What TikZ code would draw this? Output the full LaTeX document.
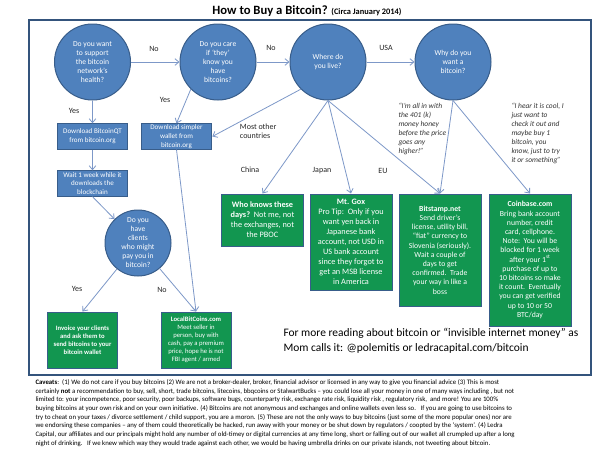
\documentclass[tikz,border=0pt]{standalone}
\usepackage{fontspec}
\setmainfont{Carlito}
\usetikzlibrary{arrows.meta}
\definecolor{qblue}{RGB}{79,129,189}
\definecolor{qedge}{RGB}{56,93,138}
\definecolor{qgreen}{RGB}{18,150,80}
\definecolor{qarrow}{RGB}{125,152,200}
\definecolor{qframe}{RGB}{52,84,124}
\tikzset{every picture/.style={line width=0.75pt}}
\tikzset{
	question/.style={circle, draw=qedge, fill=qblue, text=white, align=center, inner sep=0pt, minimum size=57pt, font=\fontsize{5.7}{6.75}\selectfont},
	stepbox/.style={rectangle, draw=qedge, fill=qblue, text=white, align=center, inner sep=0pt, minimum width=53pt, minimum height=19pt, font=\fontsize{5.3}{6.6}\selectfont},
	answer/.style={rectangle, draw=qedge, fill=qgreen, text=white, align=center, inner sep=0pt, minimum width=61.5pt, font=\fontsize{5.8}{6.9}\selectfont},
	flow/.style={draw=qarrow, line width=0.6pt, -{Straight Barb[length=3pt,width=5pt]}},
	lbl/.style={font=\fontsize{6}{7}\selectfont, text=black!85},
	quote/.style={anchor=north west, inner sep=0pt, font=\fontsize{5.6}{6.75}\selectfont\itshape, align=left, text=black!80}}

\begin{document}
\begin{tikzpicture}[x=0.75pt,y=0.75pt,yscale=-1,xscale=1]
	\path[fill=white] (0,0) rectangle (600,450);
	\useasboundingbox (0,0) rectangle (600,450);

	% Title
	\node (title) at (307,11) {\fontsize{9.5}{11}\selectfont\bfseries How to Buy a Bitcoin? {\fontsize{6.3}{7}\selectfont (Circa January 2014)}};
	% Frame
	\draw[qframe, line width=1.2pt] (29,20) rectangle (591,375);

	% Questions
	\node[question] (support) at (92.5,62) {Do you want\\to support\\the bitcoin\\network's\\health?};
	\node[question] (care) at (218,62) {Do you care\\if ‘they’\\know you\\have\\bitcoins?};
	\node[question] (live) at (328,62) {Where do\\you live?};
	\node[question] (why) at (453,62) {Why do you\\want a\\bitcoin?};
	\node[question, minimum size=49.5pt] (clients) at (138,243) {Do you\\have\\clients\\who might\\pay you in\\bitcoin?};

	% Steps
	\node[stepbox] (qt) at (92.5,136.5) {Download BitcoinQT\\from bitcoin.org};
	\node[stepbox] (simple) at (176.5,136.5) {Download simpler\\wallet from\\bitcoin.org};
	\node[stepbox] (wait) at (92.5,183.5) {Wait 1 week while it\\downloads the\\blockchain};

	% Answers
	\node[answer, minimum width=53pt, minimum height=42pt, font=\fontsize{5}{6}\selectfont\bfseries] (invoice) at (82.5,340) {Invoice your clients\\and ask them to\\send bitcoins to your\\bitcoin wallet};
	\node[answer, minimum width=52.5pt, minimum height=42pt, font=\fontsize{5}{6}\selectfont] (local) at (196,340) {\textbf{LocalBitCoins.com}\\Meet seller in\\person, buy with\\cash, pay a premium\\price, hope he is not\\FBI agent / armed};
	\node[answer, minimum width=61pt, minimum height=39pt, font=\fontsize{6.2}{7.5}\selectfont] (china) at (262.5,220) {\textbf{Who knows these}\\\textbf{days?}\ \ Not me, not\\the exchanges, not\\the PBOC};
	\node[answer, minimum height=72pt, font=\fontsize{6.2}{7.5}\selectfont] (gox) at (351,242) {\textbf{Mt. Gox}\\Pro Tip:\ \ Only if you\\want yen back in\\Japanese bank\\account, not USD in\\US bank account\\since they forgot to\\get an MSB license\\in America};
	\node[answer, minimum height=84pt] (stamp) at (440,250) {\textbf{Bitstamp.net}\\Send driver’s\\license, utility bill,\\“fiat” currency to\\Slovenia (seriously).\\Wait a couple of\\days to get\\confirmed.\ \ Trade\\your way in like a\\boss};
	\node[answer, minimum height=99pt] (coinbase) at (530,260) {\textbf{Coinbase.com}\\Bring bank account\\number, credit\\card, cellphone.\\Note:\ \ You will be\\blocked for 1 week\\after your 1\textsuperscript{st}\\purchase of up to\\10 bitcoins so make\\it count.\ \ Eventually\\you can get verified\\up to 10 or 50\\BTC/day};

	% Connectors
	\draw[flow] (support) -- (care);
	\draw[flow] (care) -- (live);
	\draw[flow] (live) -- (why);
	\draw[flow] (support) -- (qt);
	\draw[flow] (care.225) -- (simple.north);
	\draw[flow] (live.225) -- (simple.east);
	\draw[flow] (live.south) -- (china.north);
	\draw[flow] (live.south) -- (gox.north);
	\draw[flow] (live.south) -- (stamp.north);
	\draw[flow] (why.south) -- (stamp.north);
	\draw[flow] (why.south) -- (coinbase.north);
	\draw[flow] (qt) -- (wait);
	\draw[flow] (wait.south) -- (clients);
	\draw[flow] (simple.south) -- (local.north);
	\draw[flow] (clients) -- (invoice.north);
	\draw[flow] (clients) -- (local.north);

	% Labels
	\node[lbl] (no1) at (154,49) {No};
	\node[lbl] (no2) at (271,48) {No};
	\node[lbl] (usa) at (386,48) {USA};
	\node[lbl] (yes1) at (74,111) {Yes};
	\node[lbl] (yes2) at (165,100) {Yes};
	\node[lbl, anchor=west, align=left] (other) at (235,131) {Most other\\countries};
	\node[lbl] (lchina) at (250,170) {China};
	\node[lbl] (ljapan) at (322,171) {Japan};
	\node[lbl] (leu) at (383,171) {EU};
	\node[lbl] (yes3) at (77,289) {Yes};
	\node[lbl] (no3) at (162,290) {No};

	% Quotes
	\node[quote] (allin) at (398,103) {“I’m all in with\\the 401 (k)\\money honey\\before the price\\goes any\\higher!”};
	\node[quote] (cool) at (511,103) {“I hear it is cool, I\\just want to\\check it out and\\maybe buy 1\\bitcoin, you\\know, just to try\\it or something”};

	% Footer
	\node[anchor=west, align=left, inner sep=0pt, font=\fontsize{8.6}{11.25}\selectfont] (more) at (283,341) {For more reading about bitcoin or “invisible internet money” as\\Mom calls it: @polemitis or ledracapital.com/bitcoin};
	\node[anchor=north west, align=left, inner sep=0pt, font=\fontsize{5.1}{6.5}\selectfont] (caveats) at (35,379) {\textbf{Caveats}:\ \ (1) We do not care if you buy bitcoins (2) We are not a broker-dealer, broker, financial advisor or licensed in any way to give you financial advice (3) This is most\\
certainly \textbf{not} a recommendation to buy, sell, short, trade bitcoins, litecoins, bbqcoins or StalwartBucks – you could lose all your money in one of many ways including , but not\\
limited to: your incompetence, poor security, poor backups, software bugs, counterparty risk, exchange rate risk, liquidity risk , regulatory risk,\ \ and more! You are 100\%\\
buying bitcoins at your own risk and on your own initiative. (4) Bitcoins are not anonymous and exchanges and online wallets even less so.\ \ \ If you are going to use bitcoins to\\
try to cheat on your taxes / divorce settlement / child support, you are a moron. (5) These are not the only ways to buy bitcoins (just some of the more popular ones) nor are\\
we endorsing these companies – any of them could theoretically be hacked, run away with your money or be shut down by regulators / coopted by the ‘system’. (4) Ledra\\
Capital, our affiliates and our principals might hold any number of old-timey or digital currencies at any time long, short or falling out of our wallet all crumpled up after a long\\
night of drinking.\ \ \ If we knew which way they would trade against each other, we would be having umbrella drinks on our private islands, not tweeting about bitcoin.};
\end{tikzpicture}
\end{document}
